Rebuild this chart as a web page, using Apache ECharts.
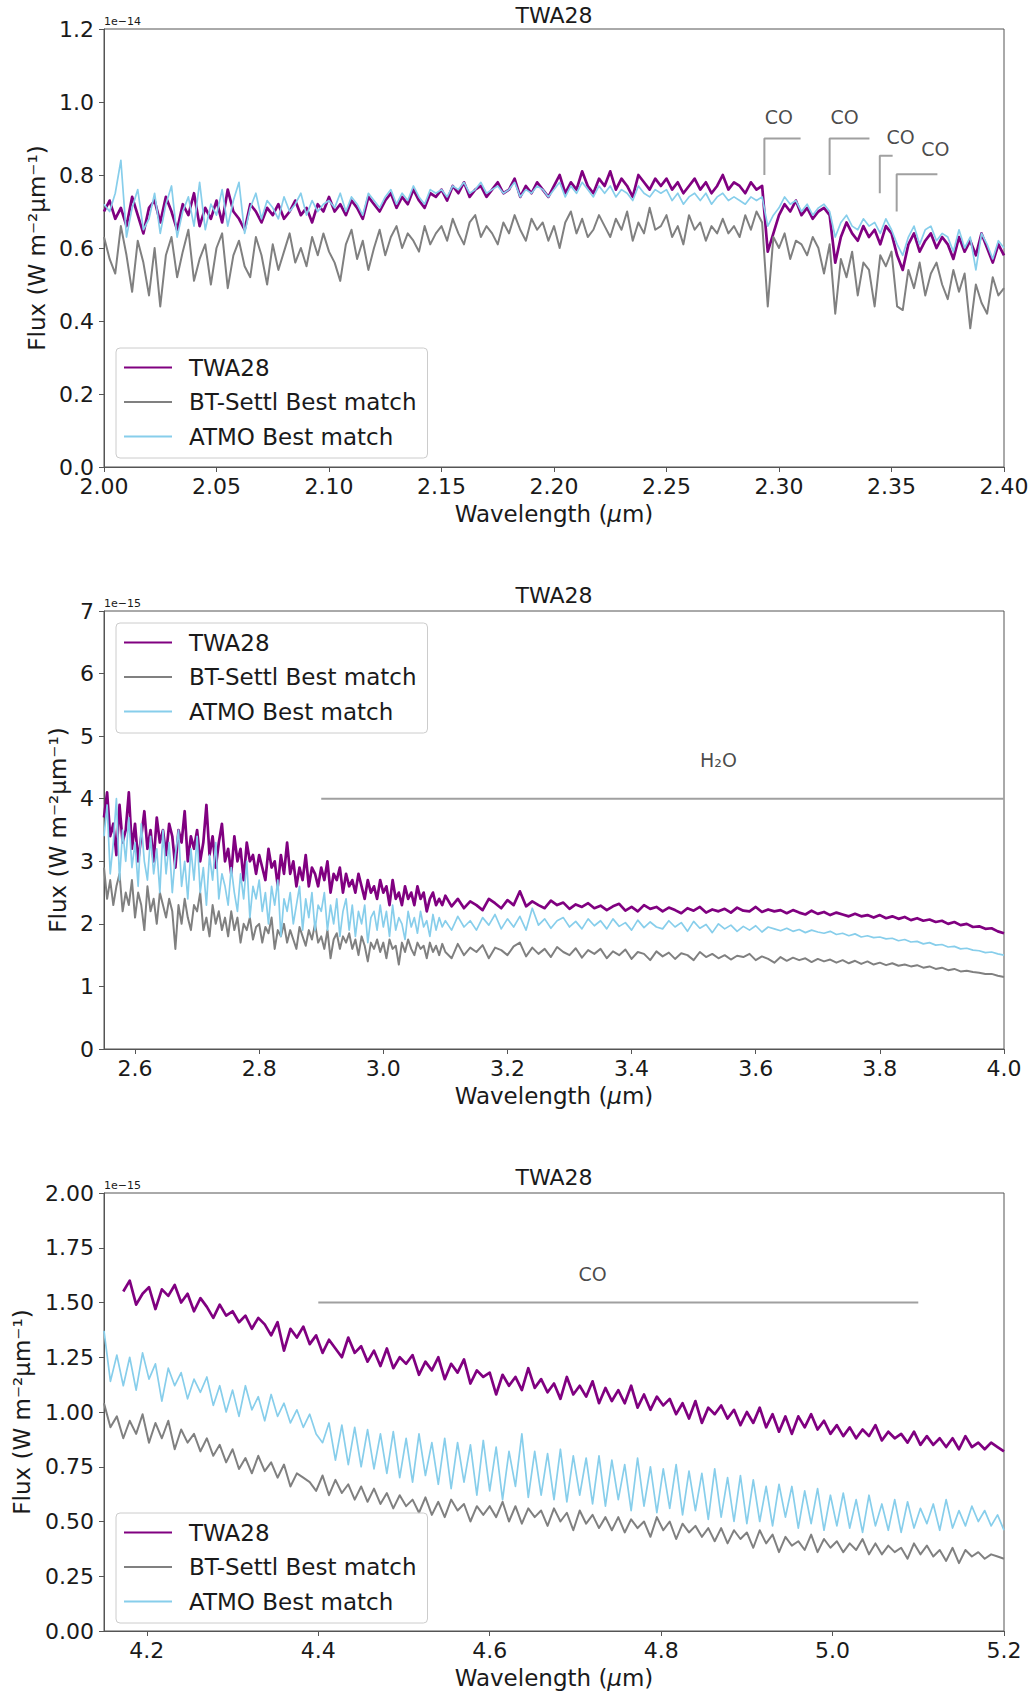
<!DOCTYPE html>
<html><head><meta charset="utf-8">
<script src="https://cdn.jsdelivr.net/npm/echarts@6/dist/echarts.min.js"></script>
<style>html,body{margin:0;padding:0;background:#fff}#c{width:1031px;height:1695px}</style>
</head><body><div id="c"></div>
<script>
// ---------------- Panel 1 : 2.00 - 2.40 um (units 1e-14) ----------------
const wl1 = [
2.0000,2.0025,2.0050,2.0075,2.0100,2.0125,2.0150,2.0175,2.0200,2.0225,
2.0250,2.0275,2.0300,2.0325,2.0350,2.0375,2.0400,2.0425,2.0450,2.0475,
2.0500,2.0525,2.0550,2.0575,2.0600,2.0625,2.0650,2.0675,2.0700,2.0725,
2.0750,2.0775,2.0800,2.0825,2.0850,2.0875,2.0900,2.0925,2.0950,2.0975,
2.1000,2.1025,2.1050,2.1075,2.1100,2.1125,2.1150,2.1175,2.1200,2.1225,
2.1250,2.1275,2.1300,2.1325,2.1350,2.1375,2.1400,2.1425,2.1450,2.1475,
2.1500,2.1525,2.1550,2.1575,2.1600,2.1625,2.1650,2.1675,2.1700,2.1725,
2.1750,2.1775,2.1800,2.1825,2.1850,2.1875,2.1900,2.1925,2.1950,2.1975,
2.2000,2.2025,2.2050,2.2075,2.2100,2.2125,2.2150,2.2175,2.2200,2.2225,
2.2250,2.2275,2.2300,2.2325,2.2350,2.2375,2.2400,2.2425,2.2450,2.2475,
2.2500,2.2525,2.2550,2.2575,2.2600,2.2625,2.2650,2.2675,2.2700,2.2725,
2.2750,2.2775,2.2800,2.2825,2.2850,2.2875,2.2900,2.2925,2.2950,2.2975,
2.3000,2.3025,2.3050,2.3075,2.3100,2.3125,2.3150,2.3175,2.3200,2.3225,
2.3250,2.3275,2.3300,2.3325,2.3350,2.3375,2.3400,2.3425,2.3450,2.3475,
2.3500,2.3525,2.3550,2.3575,2.3600,2.3625,2.3650,2.3675,2.3700,2.3725,
2.3750,2.3775,2.3800,2.3825,2.3850,2.3875,2.3900,2.3925,2.3950,2.3975,
2.4000];
const twa1 = [
0.70,0.73,0.68,0.71,0.66,0.74,0.69,0.64,0.71,0.73,
0.67,0.74,0.70,0.65,0.72,0.69,0.75,0.66,0.71,0.68,
0.73,0.67,0.76,0.70,0.68,0.65,0.72,0.70,0.67,0.71,
0.69,0.72,0.68,0.70,0.73,0.69,0.71,0.67,0.72,0.70,
0.74,0.70,0.72,0.69,0.73,0.71,0.68,0.74,0.72,0.70,
0.73,0.75,0.71,0.74,0.72,0.76,0.73,0.71,0.75,0.74,
0.76,0.73,0.77,0.75,0.78,0.74,0.76,0.77,0.74,0.76,
0.78,0.75,0.76,0.79,0.74,0.77,0.75,0.78,0.76,0.74,
0.77,0.80,0.75,0.78,0.76,0.81,0.77,0.75,0.79,0.77,
0.81,0.76,0.79,0.77,0.74,0.80,0.78,0.76,0.79,0.77,
0.79,0.76,0.78,0.75,0.77,0.79,0.76,0.78,0.75,0.77,
0.80,0.76,0.78,0.77,0.75,0.78,0.76,0.77,0.59,0.64,
0.69,0.72,0.70,0.73,0.69,0.71,0.68,0.70,0.71,0.69,
0.56,0.63,0.67,0.64,0.62,0.66,0.63,0.65,0.61,0.66,
0.64,0.58,0.54,0.61,0.64,0.59,0.62,0.64,0.60,0.63,
0.61,0.57,0.63,0.59,0.62,0.58,0.64,0.60,0.56,0.61,
0.58];
const settl1 = [
0.63,0.57,0.53,0.66,0.58,0.48,0.62,0.56,0.47,0.60,
0.44,0.58,0.63,0.52,0.59,0.65,0.51,0.57,0.61,0.50,
0.60,0.64,0.49,0.58,0.62,0.55,0.52,0.63,0.58,0.50,
0.61,0.54,0.59,0.64,0.56,0.60,0.55,0.63,0.58,0.64,
0.59,0.56,0.51,0.61,0.65,0.57,0.62,0.54,0.60,0.65,
0.58,0.63,0.66,0.60,0.64,0.62,0.59,0.66,0.61,0.64,
0.66,0.62,0.68,0.64,0.61,0.67,0.69,0.63,0.66,0.64,
0.61,0.67,0.64,0.69,0.65,0.62,0.68,0.65,0.67,0.62,
0.66,0.60,0.67,0.70,0.64,0.68,0.63,0.65,0.69,0.66,
0.63,0.68,0.65,0.70,0.62,0.67,0.64,0.71,0.65,0.66,
0.69,0.63,0.66,0.61,0.69,0.65,0.67,0.62,0.66,0.64,
0.68,0.64,0.66,0.63,0.69,0.65,0.70,0.67,0.44,0.63,
0.60,0.64,0.57,0.62,0.61,0.58,0.63,0.60,0.53,0.61,
0.42,0.57,0.52,0.59,0.47,0.56,0.54,0.44,0.58,0.55,
0.59,0.44,0.43,0.54,0.49,0.56,0.47,0.53,0.56,0.50,
0.46,0.54,0.48,0.53,0.38,0.50,0.45,0.42,0.52,0.47,
0.49];
const atmo1 = [
0.72,0.70,0.75,0.84,0.63,0.71,0.76,0.65,0.68,0.75,
0.64,0.72,0.77,0.63,0.70,0.74,0.66,0.78,0.65,0.72,
0.69,0.76,0.66,0.73,0.78,0.64,0.71,0.75,0.68,0.73,
0.71,0.68,0.74,0.70,0.72,0.75,0.69,0.73,0.70,0.72,
0.73,0.71,0.75,0.70,0.74,0.72,0.69,0.75,0.73,0.71,
0.74,0.76,0.72,0.75,0.73,0.77,0.74,0.72,0.76,0.75,
0.76,0.74,0.77,0.76,0.78,0.75,0.76,0.78,0.75,0.76,
0.77,0.75,0.76,0.78,0.74,0.76,0.75,0.77,0.76,0.74,
0.76,0.78,0.74,0.77,0.75,0.78,0.76,0.74,0.77,0.75,
0.77,0.74,0.76,0.75,0.73,0.77,0.75,0.74,0.76,0.75,
0.76,0.73,0.75,0.72,0.74,0.75,0.73,0.75,0.72,0.74,
0.75,0.73,0.74,0.73,0.72,0.74,0.73,0.74,0.66,0.69,
0.71,0.74,0.72,0.73,0.70,0.72,0.69,0.71,0.72,0.70,
0.63,0.67,0.69,0.66,0.65,0.68,0.66,0.67,0.64,0.68,
0.65,0.61,0.58,0.63,0.66,0.61,0.65,0.66,0.62,0.64,
0.63,0.59,0.65,0.60,0.63,0.54,0.64,0.61,0.57,0.62,
0.60];

// ---------------- Panel 2 : 2.55 - 4.00 um (units 1e-15) ----------------
const wl2 = [
2.550,2.555,2.560,2.565,2.570,2.575,2.580,2.585,2.590,2.595,
2.600,2.605,2.610,2.615,2.620,2.625,2.630,2.635,2.640,2.645,
2.650,2.655,2.660,2.665,2.670,2.675,2.680,2.685,2.690,2.695,
2.700,2.705,2.710,2.715,2.720,2.725,2.730,2.735,2.740,2.745,
2.750,2.755,2.760,2.765,2.770,2.775,2.780,2.785,2.790,2.795,
2.800,2.805,2.810,2.815,2.820,2.825,2.830,2.835,2.840,2.845,
2.850,2.855,2.860,2.865,2.870,2.875,2.880,2.885,2.890,2.895,
2.900,2.905,2.910,2.915,2.920,2.925,2.930,2.935,2.940,2.945,
2.950,2.955,2.960,2.965,2.970,2.975,2.980,2.985,2.990,2.995,
3.000,3.005,3.010,3.015,3.020,3.025,3.030,3.035,3.040,3.045,
3.050,3.055,3.060,3.065,3.070,3.075,3.080,3.085,3.090,3.095,
3.100,
3.11,3.12,3.13,3.14,
3.15,3.16,3.17,3.18,3.19,3.20,3.21,3.22,3.23,3.24,
3.25,3.26,3.27,3.28,3.29,3.30,3.31,3.32,3.33,3.34,
3.35,3.36,3.37,3.38,3.39,3.40,3.41,3.42,3.43,3.44,
3.45,3.46,3.47,3.48,3.49,3.50,3.51,3.52,3.53,3.54,
3.55,3.56,3.57,3.58,3.59,3.60,3.61,3.62,3.63,3.64,
3.65,3.66,3.67,3.68,3.69,3.70,3.71,3.72,3.73,3.74,
3.75,3.76,3.77,3.78,3.79,3.80,3.81,3.82,3.83,3.84,
3.85,3.86,3.87,3.88,3.89,3.90,3.91,3.92,3.93,3.94,
3.95,3.96,3.97,3.98,3.99,4.00];
const twa2 = [
3.7,4.1,3.4,3.6,3.1,3.9,3.3,3.5,4.1,3.2,
3.6,3.0,3.4,3.8,3.2,3.5,3.0,3.7,3.3,3.5,
3.1,3.6,3.4,2.9,3.5,3.3,3.8,3.0,3.4,3.2,
3.5,3.0,3.3,3.9,3.1,3.4,2.9,3.3,3.6,3.0,
3.2,2.8,3.4,3.0,3.2,2.7,3.3,3.0,3.1,2.8,
3.1,2.9,2.7,3.2,2.9,3.0,2.6,3.1,2.8,3.3,
2.8,3.0,2.6,2.9,2.7,3.1,2.6,2.9,2.8,2.6,
2.9,2.7,3.0,2.5,2.8,2.7,2.9,2.5,2.8,2.6,
2.7,2.5,2.8,2.6,2.4,2.7,2.5,2.6,2.4,2.7,
2.5,2.6,2.3,2.7,2.4,2.5,2.3,2.6,2.4,2.5,
2.3,2.6,2.4,2.5,2.2,2.4,2.5,2.3,2.4,2.3,
2.45,
2.28,2.4,2.25,2.36,
2.3,2.22,2.4,2.33,2.25,2.38,2.3,2.52,2.28,2.36,
2.3,2.25,2.37,2.3,2.34,2.24,2.31,2.27,2.33,2.25,
2.29,2.22,2.28,2.32,2.21,2.27,2.2,2.3,2.24,2.27,
2.2,2.26,2.22,2.17,2.25,2.21,2.27,2.18,2.23,2.2,
2.24,2.18,2.26,2.21,2.2,2.27,2.19,2.23,2.2,2.22,
2.17,2.22,2.18,2.15,2.21,2.16,2.19,2.14,2.18,2.15,
2.12,2.16,2.12,2.14,2.1,2.14,2.09,2.12,2.08,2.11,
2.06,2.09,2.05,2.07,2.03,2.05,2.0,2.03,1.98,2.0,
1.95,1.96,1.92,1.93,1.88,1.85];
const settl2 = [
2.9,2.4,2.7,2.3,2.6,2.8,2.2,2.5,2.3,2.7,
2.1,2.5,2.3,1.9,2.6,2.2,2.4,2.0,2.5,2.3,
2.1,2.4,2.2,1.6,2.3,2.0,2.4,2.1,1.9,2.3,
2.2,2.5,1.9,2.1,1.8,2.3,2.0,2.2,1.9,2.1,
1.8,2.2,1.9,2.1,1.7,2.0,1.9,2.1,1.75,1.95,
2.0,1.7,1.95,1.85,2.1,1.6,1.9,1.8,2.0,1.7,
1.9,1.75,1.6,1.95,1.8,1.65,1.9,1.75,2.0,1.7,
1.8,1.6,1.9,1.45,1.75,1.85,1.6,1.8,1.7,1.85,
1.6,1.75,1.5,1.8,1.65,1.4,1.7,1.6,1.75,1.55,
1.7,1.45,1.75,1.6,1.65,1.35,1.7,1.55,1.75,1.6,
1.5,1.7,1.6,1.65,1.45,1.7,1.55,1.65,1.5,1.68,
1.55,
1.45,1.68,1.5,1.62,
1.55,1.66,1.45,1.62,1.58,1.5,1.64,1.7,1.48,1.62,
1.52,1.6,1.47,1.63,1.55,1.5,1.61,1.46,1.58,1.52,
1.6,1.45,1.56,1.5,1.59,1.44,1.55,1.52,1.42,1.56,
1.48,1.54,1.44,1.53,1.5,1.42,1.55,1.47,1.52,1.45,
1.5,1.43,1.49,1.47,1.52,1.42,1.48,1.44,1.38,1.47,
1.41,1.46,1.42,1.45,1.39,1.44,1.4,1.43,1.38,1.42,
1.37,1.41,1.36,1.4,1.35,1.38,1.34,1.37,1.33,1.35,
1.32,1.34,1.3,1.32,1.28,1.3,1.26,1.28,1.24,1.25,
1.23,1.22,1.2,1.2,1.17,1.15];
const atmo2 = [
3.4,3.9,2.8,3.3,4.0,2.7,3.5,3.0,3.7,2.9,
3.3,2.6,3.6,3.0,2.7,3.4,2.8,3.2,2.5,3.5,
2.8,3.3,2.5,3.1,3.5,2.6,3.0,2.4,3.2,2.7,
3.4,2.5,2.9,2.3,3.1,2.7,3.3,2.4,2.8,2.6,
2.3,2.9,2.5,2.2,2.8,2.4,3.0,2.1,2.6,2.4,
2.7,2.2,2.5,2.0,2.6,2.3,2.7,1.8,2.4,2.2,
2.5,2.0,2.3,2.6,1.9,2.4,2.1,2.5,1.9,2.3,
2.2,2.5,1.9,2.3,2.0,2.4,1.8,2.2,2.4,1.9,
2.3,1.8,2.2,2.0,2.3,1.7,2.1,2.2,1.9,2.3,
1.95,2.2,1.8,2.3,1.9,2.1,2.0,1.75,2.2,1.95,
2.1,1.85,2.2,1.95,2.05,1.8,2.15,1.9,2.1,1.95,
2.05,
1.9,2.12,1.95,2.05,
1.9,2.1,1.98,2.15,1.92,2.08,1.95,2.12,1.9,2.25,
1.98,2.08,1.93,2.05,2.1,1.95,2.04,1.92,2.08,1.97,
2.05,1.92,2.08,1.96,2.02,1.9,2.06,1.94,2.03,1.95,
1.92,2.05,1.95,2.02,1.88,2.04,1.93,1.99,1.86,2.0,
1.92,1.98,1.88,1.96,1.9,1.97,1.87,1.95,1.92,1.89,
1.93,1.88,1.91,1.86,1.9,1.87,1.85,1.88,1.83,1.85,
1.81,1.84,1.79,1.81,1.78,1.79,1.76,1.77,1.73,1.75,
1.71,1.72,1.68,1.7,1.66,1.67,1.63,1.64,1.6,1.61,
1.58,1.57,1.54,1.55,1.52,1.5];

// ---------------- Panel 3 : 4.15 - 5.20 um (units 1e-15) ----------------
const wl3 = [
4.1500,4.1575,4.1650,4.1725,4.1800,4.1875,4.1950,4.2025,
4.2100,4.2175,4.2250,4.2325,4.2400,4.2475,4.2550,4.2625,
4.2700,4.2775,4.2850,4.2925,4.3000,4.3075,4.3150,4.3225,
4.3300,4.3375,4.3450,4.3525,4.3600,4.3675,4.3750,4.3825,
4.3900,4.3975,4.4050,4.4125,4.4200,4.4275,4.4350,4.4425,
4.4500,4.4575,4.4650,4.4725,4.4800,4.4875,4.4950,4.5025,
4.5100,4.5175,4.5250,4.5325,4.5400,4.5475,4.5550,4.5625,
4.5700,4.5775,4.5850,4.5925,4.6000,4.6075,4.6150,4.6225,
4.6300,4.6375,4.6450,4.6525,4.6600,4.6675,4.6750,4.6825,
4.6900,4.6975,4.7050,4.7125,4.7200,4.7275,4.7350,4.7425,
4.7500,4.7575,4.7650,4.7725,4.7800,4.7875,4.7950,4.8025,
4.8100,4.8175,4.8250,4.8325,4.8400,4.8475,4.8550,4.8625,
4.8700,4.8775,4.8850,4.8925,4.9000,4.9075,4.9150,4.9225,
4.9300,4.9375,4.9450,4.9525,4.9600,4.9675,4.9750,4.9825,
4.9900,4.9975,5.0050,5.0125,5.0200,5.0275,5.0350,5.0425,
5.0500,5.0575,5.0650,5.0725,5.0800,5.0875,5.0950,5.1025,
5.1100,5.1175,5.1250,5.1325,5.1400,5.1475,5.1550,5.1625,
5.1700,5.1775,5.1850,5.1925,5.2000];
const twa3 = [
null,null,null,1.55,1.60,1.49,1.54,1.57,
1.47,1.56,1.53,1.58,1.50,1.54,1.46,1.52,
1.48,1.43,1.49,1.44,1.46,1.41,1.44,1.38,
1.43,1.40,1.35,1.41,1.28,1.38,1.34,1.39,
1.31,1.35,1.27,1.33,1.29,1.25,1.34,1.27,
1.30,1.23,1.28,1.21,1.29,1.20,1.25,1.22,
1.26,1.17,1.23,1.19,1.25,1.15,1.22,1.18,
1.24,1.13,1.19,1.16,1.18,1.08,1.17,1.12,
1.16,1.10,1.20,1.11,1.15,1.09,1.13,1.06,
1.16,1.08,1.12,1.07,1.14,1.04,1.11,1.05,
1.10,1.04,1.12,1.02,1.08,1.01,1.07,1.03,
1.06,0.99,1.04,0.97,1.05,0.95,1.02,0.99,
1.03,0.97,1.01,0.94,1.00,0.95,1.02,0.93,
0.99,0.91,0.98,0.90,0.98,0.93,0.99,0.92,
0.96,0.90,0.94,0.89,0.93,0.88,0.92,0.89,
0.94,0.87,0.91,0.88,0.90,0.86,0.91,0.85,
0.89,0.85,0.88,0.84,0.88,0.83,0.89,0.84,
0.86,0.83,0.86,0.84,0.82];
const settl3 = [
1.04,0.93,0.98,0.88,0.96,0.90,0.99,0.86,
0.95,0.88,0.96,0.83,0.92,0.86,0.90,0.82,
0.88,0.80,0.85,0.77,0.83,0.74,0.79,0.72,
0.80,0.73,0.77,0.70,0.76,0.66,0.72,0.70,
0.68,0.64,0.71,0.62,0.69,0.63,0.67,0.60,
0.66,0.59,0.65,0.58,0.63,0.56,0.62,0.57,
0.60,0.54,0.61,0.53,0.59,0.52,0.60,0.55,
0.58,0.50,0.57,0.53,0.57,0.52,0.59,0.50,
0.57,0.49,0.56,0.52,0.55,0.48,0.56,0.50,
0.54,0.46,0.55,0.49,0.53,0.47,0.52,0.46,
0.52,0.45,0.51,0.47,0.50,0.43,0.52,0.46,
0.50,0.42,0.49,0.45,0.48,0.43,0.47,0.41,
0.47,0.40,0.46,0.42,0.45,0.38,0.46,0.40,
0.44,0.36,0.43,0.39,0.41,0.37,0.44,0.36,
0.42,0.38,0.41,0.36,0.40,0.37,0.42,0.35,
0.40,0.35,0.39,0.36,0.38,0.33,0.40,0.35,
0.39,0.34,0.37,0.32,0.38,0.31,0.37,0.34,
0.36,0.33,0.35,0.34,0.33];
const atmo3 = [
1.37,1.14,1.26,1.12,1.25,1.10,1.27,1.15,
1.22,1.05,1.20,1.12,1.18,1.06,1.15,1.09,
1.16,1.03,1.12,1.00,1.10,0.98,1.12,1.01,
1.07,0.96,1.08,0.98,1.04,0.95,1.01,0.93,
0.99,0.90,0.86,0.95,0.78,0.94,0.76,0.93,
0.75,0.92,0.74,0.90,0.72,0.91,0.70,0.88,
0.68,0.90,0.71,0.86,0.67,0.88,0.65,0.86,
0.68,0.85,0.62,0.87,0.64,0.84,0.60,0.82,
0.66,0.90,0.61,0.82,0.62,0.81,0.60,0.83,
0.59,0.80,0.62,0.79,0.58,0.80,0.57,0.78,
0.60,0.76,0.55,0.79,0.57,0.75,0.54,0.74,
0.56,0.76,0.53,0.73,0.55,0.72,0.51,0.74,
0.52,0.70,0.50,0.71,0.49,0.69,0.50,0.66,
0.48,0.67,0.52,0.66,0.47,0.64,0.49,0.65,
0.46,0.62,0.48,0.63,0.47,0.60,0.45,0.62,
0.48,0.58,0.46,0.60,0.45,0.59,0.47,0.56,
0.49,0.58,0.46,0.60,0.47,0.55,0.48,0.57,
0.50,0.55,0.48,0.53,0.46];

// ---------------- ticks, names, annotations ----------------
const seriesNames = ['TWA28', 'BT-Settl Best match', 'ATMO Best match'];
const panelTitle = 'TWA28';
const xTicks1 = [2.00, 2.05, 2.10, 2.15, 2.20, 2.25, 2.30, 2.35, 2.40];
const xTicks2 = [2.6, 2.8, 3.0, 3.2, 3.4, 3.6, 3.8, 4.0];
const xTicks3 = [4.2, 4.4, 4.6, 4.8, 5.0, 5.2];
const yTicks1 = [0.0, 0.2, 0.4, 0.6, 0.8, 1.0, 1.2];
const yTicks2 = [0, 1, 2, 3, 4, 5, 6, 7];
const yTicks3 = [0.00, 0.25, 0.50, 0.75, 1.00, 1.25, 1.50, 1.75, 2.00];
const offsetLabels = ['1e\u221214', '1e\u221215', '1e\u221215'];
// CO bandhead brackets, panel 1 (data coordinates)
const coHeadX = [2.2935, 2.3225, 2.3448, 2.3523];
const coHeadEndX = [2.3096, 2.3402, 2.3505, 2.3704];
const coHeadLow = [0.80, 0.80, 0.75, 0.70];
const coHeadHigh = [0.90, 0.90, 0.853, 0.802];
const coLabelX = [2.2999, 2.3292, 2.3540, 2.3695];
const coLabelY = [0.958, 0.958, 0.904, 0.872];
// H2O band, panel 2
const h2oBandX = [2.9, 4.0];
const h2oBandY = 4.0;
const h2oLabel = [3.54, 4.62];
// CO band, panel 3
const coBandX = [4.4, 5.1];
const coBandY = 1.5;
const coBandLabel = [4.72, 1.63];

// ---------------- chart ----------------
const F = 'DejaVu Sans';
const INK = '#1a1a1a';
const SPINE = '#555555';
const COLORS = ['#800080', '#808080', '#87ceeb'];
const WIDTHS = [2.7, 2.0, 1.7];

const zip = (xs, ys) => xs.map((x, i) => ys[i] == null ? null : [x, ys[i]]).filter(p => p);

const grids = [29, 611, 1193].map(t => ({
  left: 104, top: t, width: 900, height: 438, show: true,
  borderColor: SPINE, borderWidth: 1, backgroundColor: 'transparent',
  containLabel: false, outerBoundsMode: 'none'
}));

const xCfg = [
  {min: 2.0, max: 2.4, ticks: xTicks1, dec: 2},
  {min: 2.55, max: 4.0, ticks: xTicks2, dec: 1},
  {min: 4.15, max: 5.2, ticks: xTicks3, dec: 1}
];
const yCfg = [
  {max: 1.2, ticks: yTicks1, dec: 1, gap: 56},
  {max: 7, ticks: yTicks2, dec: 0, gap: 33},
  {max: 2.0, ticks: yTicks3, dec: 2, gap: 71}
];

const xAxes = xCfg.map((c, i) => ({
  gridIndex: i, type: 'value', min: c.min, max: c.max,
  axisLine: {show: true, onZero: false, lineStyle: {color: SPINE, width: 1}},
  axisTick: {show: true, customValues: c.ticks, length: 5, lineStyle: {color: SPINE, width: 1}},
  axisLabel: {customValues: c.ticks, formatter: v => Number(v).toFixed(c.dec), fontSize: 22,
    fontFamily: F, color: INK, margin: 11, lineHeight: 16, hideOverlap: false},
  splitLine: {show: false},
  name: '{a|Wavelength (}{b|\u03bc}{a|m)}', nameLocation: 'middle', nameGap: 35,
  nameTextStyle: {rich: {
    a: {fontSize: 23, fontFamily: F, color: INK, lineHeight: 23},
    b: {fontSize: 23, fontFamily: F, color: INK, lineHeight: 23, fontStyle: 'italic'}
  }}
}));

const yAxes = yCfg.map((c, i) => ({
  gridIndex: i, type: 'value', min: 0, max: c.max,
  axisLine: {show: true, onZero: false, lineStyle: {color: SPINE, width: 1}},
  axisTick: {show: true, customValues: c.ticks, length: 5, lineStyle: {color: SPINE, width: 1}},
  axisLabel: {customValues: c.ticks, formatter: v => Number(v).toFixed(c.dec), fontSize: 22,
    fontFamily: F, color: INK, margin: 10, lineHeight: 16, hideOverlap: false},
  splitLine: {show: false},
  name: 'Flux (W m\u207b\u00b2\u03bcm\u207b\u00b9)', nameLocation: 'middle', nameGap: c.gap, nameRotate: 90,
  nameTextStyle: {fontSize: 23, fontFamily: F, color: INK, lineHeight: 22}
}));

const panels = [
  [wl1, [twa1, settl1, atmo1]],
  [wl2, [twa2, settl2, atmo2]],
  [wl3, [twa3, settl3, atmo3]]
];

const series = [];
panels.forEach(([xs, ys], gi) => {
  ys.forEach((y, k) => {
    series.push({
      type: 'line', name: seriesNames[k], xAxisIndex: gi, yAxisIndex: gi,
      data: zip(xs, y), showSymbol: false, symbol: 'none',
      lineStyle: {color: COLORS[k], width: WIDTHS[k], join: 'round'},
      itemStyle: {color: COLORS[k]}, animation: false, silent: true, z: 2 + k * 0.1
    });
  });
});

const GUIDE = '#a0a0a0';
function guide(gi, pts) {
  return {type: 'line', xAxisIndex: gi, yAxisIndex: gi, data: pts, symbol: 'none', showSymbol: false,
    lineStyle: {color: GUIDE, width: 2}, itemStyle: {color: GUIDE}, silent: true, animation: false, z: 3};
}
function tag(gi, x, y, text) {
  return {type: 'scatter', xAxisIndex: gi, yAxisIndex: gi, data: [[x, y]], symbolSize: 1,
    itemStyle: {color: 'transparent'}, silent: true, animation: false, z: 4,
    label: {show: true, position: 'inside', formatter: text, fontSize: 19, fontFamily: F, color: INK}};
}
coHeadX.forEach((x, i) => {
  series.push(guide(0, [[x, coHeadLow[i]], [x, coHeadHigh[i]], [coHeadEndX[i], coHeadHigh[i]]]));
  series.push(tag(0, coLabelX[i], coLabelY[i], 'CO'));
});
series.push(guide(1, [[h2oBandX[0], h2oBandY], [h2oBandX[1], h2oBandY]]));
series.push(tag(1, h2oLabel[0], h2oLabel[1], 'H\u2082O'));
series.push(guide(2, [[coBandX[0], coBandY], [coBandX[1], coBandY]]));
series.push(tag(2, coBandLabel[0], coBandLabel[1], 'CO'));

const legends = [348, 623, 1513].map(t => ({
  data: seriesNames, left: 116, top: t, orient: 'vertical', icon: 'rect',
  itemWidth: 48, itemHeight: 2, itemGap: 11.5, selectedMode: false,
  padding: [8, 11, 10, 8], backgroundColor: 'rgba(255,255,255,0.8)',
  borderColor: '#cccccc', borderWidth: 1, borderRadius: 4,
  textStyle: {fontSize: 23, fontFamily: F, color: INK, lineHeight: 22, padding: [0, 0, 0, 12]},
  z: 10
}));

const graphics = [];
[15, 595, 1177].forEach(y => graphics.push({type: 'text', x: 554, y: y, silent: true,
  style: {text: panelTitle, fontSize: 22, fontFamily: F, fill: INK, align: 'center', verticalAlign: 'middle'}}));
[21, 603, 1185].forEach((y, i) => graphics.push({type: 'text', x: 104, y: y, silent: true,
  style: {text: offsetLabels[i], fontSize: 11, fontFamily: F, fill: INK, align: 'left', verticalAlign: 'middle'}}));

const chart = echarts.init(document.getElementById('c'), null, {renderer: 'svg'});
chart.setOption({
  backgroundColor: '#ffffff', animation: false,
  grid: grids, xAxis: xAxes, yAxis: yAxes, legend: legends, series: series, graphic: graphics
});
</script></body></html>
